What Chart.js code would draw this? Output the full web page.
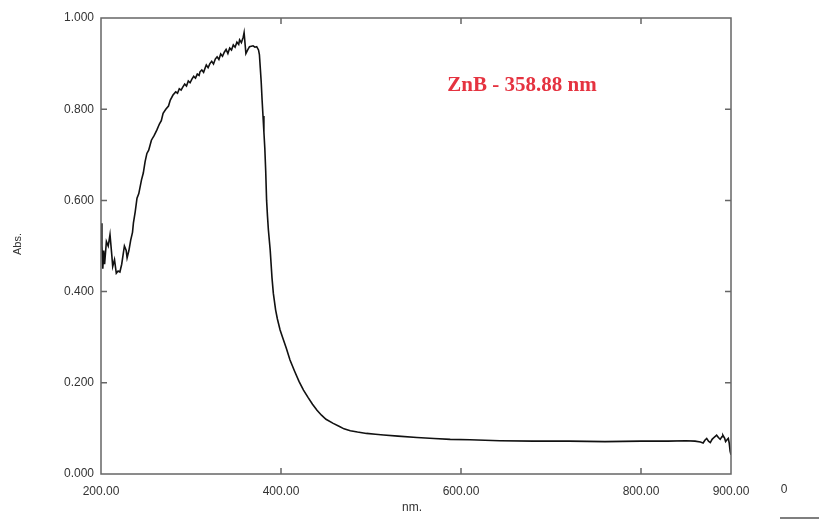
<!DOCTYPE html>
<html>
<head>
<meta charset="utf-8">
<script src="https://cdn.jsdelivr.net/npm/chart.js@4"></script>
<style>
  html, body { margin: 0; padding: 0; background: #fff; }
  #wrap { width: 819px; height: 524px; position: relative; }
</style>
</head>
<body>
<div id="wrap"><canvas id="my-canvas" width="819" height="524"></canvas></div>
<script>
// wavelength (nm) and absorbance
const wavelengths = [
  200, 201, 202, 203, 204, 206, 208, 210, 212, 213, 215, 217, 219, 221, 223, 226, 228, 229, 231, 233,
  235, 236, 238, 240, 242, 245, 247, 249, 251, 253, 256, 259, 262, 265, 267, 269, 272, 275, 277, 280,
  283, 285, 287, 289, 291, 293, 295, 297, 299, 301, 303, 305, 307, 309, 310, 312, 314, 316, 317, 319,
  321, 323, 325, 327, 329, 331, 333, 335, 337, 339, 341, 343, 345, 347, 349, 351, 353, 354, 356, 358,
  359, 361, 363, 365, 367, 369, 371, 373, 375, 376, 377, 378, 379, 380, 381, 382, 383, 384, 385, 386,
  388, 390, 391.5, 394, 396, 399, 402, 406, 410, 415, 420, 425, 430, 435, 440, 445, 450, 458, 465, 470,
  477, 485, 495, 505, 514, 530, 551, 570, 588, 610, 643, 680, 720, 760, 800, 830, 850, 860, 866, 869,
  871, 873, 875, 877, 879, 881, 884, 886, 888, 890, 891, 893, 894, 896, 897, 898, 899, 900
];
const absorbance = [
  0.550, 0.500, 0.450, 0.490, 0.460, 0.510, 0.500, 0.525, 0.480, 0.455, 0.470, 0.440, 0.445, 0.443, 0.460, 0.500, 0.490, 0.474, 0.490, 0.513,
  0.530, 0.550, 0.575, 0.605, 0.615, 0.645, 0.660, 0.685, 0.703, 0.710, 0.732, 0.742, 0.754, 0.768, 0.775, 0.791, 0.800, 0.807, 0.820, 0.831,
  0.838, 0.835, 0.845, 0.842, 0.849, 0.855, 0.851, 0.862, 0.858, 0.866, 0.872, 0.868, 0.877, 0.874, 0.882, 0.886, 0.881, 0.892, 0.897, 0.891,
  0.900, 0.905, 0.899, 0.910, 0.915, 0.909, 0.921, 0.916, 0.925, 0.931, 0.922, 0.934, 0.930, 0.941, 0.936, 0.947, 0.942, 0.952, 0.946, 0.958,
  0.968, 0.922, 0.930, 0.937, 0.938, 0.939, 0.936, 0.937, 0.930, 0.920, 0.890, 0.860, 0.820, 0.785, 0.750, 0.715, 0.665, 0.600, 0.565, 0.535,
  0.491, 0.430, 0.396, 0.360, 0.340, 0.316, 0.298, 0.275, 0.250, 0.226, 0.203, 0.184, 0.168, 0.153, 0.140, 0.129, 0.120, 0.111, 0.104, 0.099,
  0.095, 0.092, 0.089, 0.087, 0.0855, 0.083, 0.080, 0.078, 0.076, 0.075, 0.073, 0.072, 0.072, 0.071, 0.072, 0.072, 0.073, 0.072, 0.070, 0.068,
  0.074, 0.078, 0.072, 0.069, 0.076, 0.080, 0.085, 0.080, 0.076, 0.082, 0.085, 0.078, 0.071, 0.076, 0.078, 0.068, 0.050, 0.042
];
const xTicks = [200, 400, 600, 800, 900];
const yTicks = [0, 0.2, 0.4, 0.6, 0.8, 1.0];
const peakLabel = 'ZnB - 358.88 nm';

const points = wavelengths.map((w, i) => ({ x: w, y: absorbance[i] }));

// frame, inward tick marks and the loose texts around the plot
const framePlugin = {
  id: 'frame',
  afterDraw(chart) {
    const { ctx, chartArea: a, scales } = chart;
    const xs = scales.x, ys = scales.y;
    ctx.save();
    ctx.strokeStyle = '#666';
    ctx.lineWidth = 1.5;
    ctx.strokeRect(a.left, a.top, a.right - a.left, a.bottom - a.top);
    ctx.beginPath();
    xTicks.forEach(v => {
      const px = xs.getPixelForValue(v);
      if (v === 200 || v === 900) return;
      ctx.moveTo(px, a.bottom); ctx.lineTo(px, a.bottom - 6);
      ctx.moveTo(px, a.top); ctx.lineTo(px, a.top + 6);
    });
    yTicks.forEach(v => {
      const py = ys.getPixelForValue(v);
      if (v === 0 || v === 1) return;
      ctx.moveTo(a.left, py); ctx.lineTo(a.left + 6, py);
      ctx.moveTo(a.right, py); ctx.lineTo(a.right - 6, py);
    });
    ctx.stroke();

    ctx.fillStyle = '#e53340';
    ctx.font = 'bold 21px "Liberation Serif", "Times New Roman", serif';
    ctx.textAlign = 'center';
    ctx.textBaseline = 'middle';
    ctx.fillText(peakLabel, 522, 86);

    ctx.fillStyle = '#333';
    ctx.font = '12px "Liberation Sans", Arial, sans-serif';
    ctx.fillText('nm.', 412, 508);
    ctx.fillText('0', 784, 490);
    ctx.save();
    ctx.translate(18, 244);
    ctx.rotate(-Math.PI / 2);
    ctx.font = '11px "Liberation Sans", Arial, sans-serif';
    ctx.fillText('Abs.', 0, 0);
    ctx.restore();

    ctx.strokeStyle = '#555';
    ctx.lineWidth = 1.5;
    ctx.beginPath();
    ctx.moveTo(780, 518); ctx.lineTo(819, 518);
    ctx.stroke();
    ctx.restore();
  }
};

const ctx = document.getElementById('my-canvas').getContext('2d');
const chart = new Chart(ctx, {
  type: 'scatter',
  data: {
    datasets: [{
      label: 'Abs.',
      data: points,
      showLine: true,
      borderColor: '#111',
      borderWidth: 1.6,
      pointRadius: 0,
      tension: 0
    }]
  },
  options: {
    responsive: false,
    animation: false,
    layout: { padding: { left: 0, top: 18, right: 88, bottom: 0 } },
    plugins: { legend: { display: false }, tooltip: { enabled: false } },
    scales: {
      x: {
        type: 'linear',
        min: 200,
        max: 900,
        afterBuildTicks: s => { s.ticks = xTicks.map(v => ({ value: v })); },
        afterFit: s => { s.height = 50; },
        grid: { display: false, drawTicks: false },
        border: { display: false },
        ticks: {
          color: '#333',
          padding: 10,
          maxRotation: 0,
          autoSkip: false,
          font: { family: '"Liberation Sans", Arial, sans-serif', size: 12 },
          callback: v => Number(v).toFixed(2)
        }
      },
      y: {
        min: 0,
        max: 1,
        afterBuildTicks: s => { s.ticks = yTicks.map(v => ({ value: v })); },
        afterFit: s => { s.width = 101; },
        grid: { display: false, drawTicks: false },
        border: { display: false },
        ticks: {
          color: '#333',
          padding: 7,
          font: { family: '"Liberation Sans", Arial, sans-serif', size: 12 },
          callback: v => Number(v).toFixed(3)
        }
      }
    }
  },
  plugins: [framePlugin]
});
</script>
</body>
</html>
